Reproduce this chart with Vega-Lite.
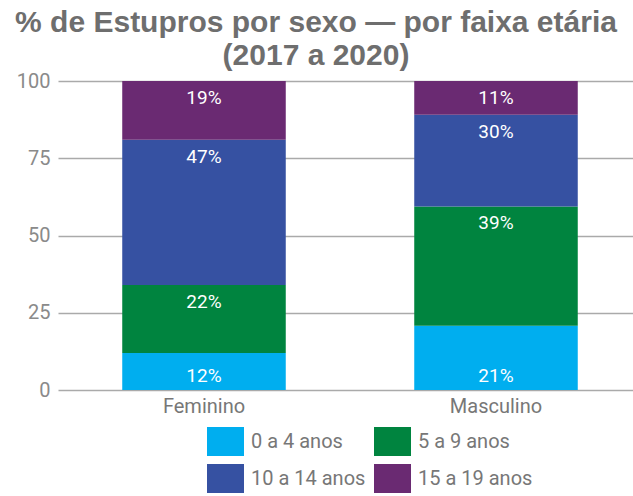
{
  "$schema": "https://vega.github.io/schema/vega-lite/v6.json",
  "autosize": "none",
  "width": 584,
  "height": 309,
  "padding": {"left": 58, "top": 81, "right": 0, "bottom": 106},
  "background": "white",
  "title": {
    "text": ["% de Estupros por sexo — por faixa etária", "(2017 a 2020)"],
    "font": "Liberation Sans",
    "fontWeight": "bold",
    "fontSize": 30,
    "lineHeight": 33,
    "color": "#6e6e6e",
    "anchor": "middle",
    "dx": -34,
    "offset": 0
  },
  "data": {
    "values": [
      {"sexo": "Feminino", "faixa": "0 a 4 anos", "ordem": 1, "valor": 12},
      {"sexo": "Feminino", "faixa": "5 a 9 anos", "ordem": 2, "valor": 22},
      {"sexo": "Feminino", "faixa": "10 a 14 anos", "ordem": 3, "valor": 47},
      {"sexo": "Feminino", "faixa": "15 a 19 anos", "ordem": 4, "valor": 19},
      {"sexo": "Masculino", "faixa": "0 a 4 anos", "ordem": 1, "valor": 21},
      {"sexo": "Masculino", "faixa": "5 a 9 anos", "ordem": 2, "valor": 39},
      {"sexo": "Masculino", "faixa": "10 a 14 anos", "ordem": 3, "valor": 30},
      {"sexo": "Masculino", "faixa": "15 a 19 anos", "ordem": 4, "valor": 11}
    ]
  },
  "transform": [
    {"stack": "valor", "groupby": ["sexo"], "sort": [{"field": "ordem", "order": "ascending"}], "as": ["y0", "y1"], "offset": "normalize"},
    {"calculate": "datum.valor + '%'", "as": "rotulo"}
  ],
  "encoding": {
    "x": {
      "field": "sexo",
      "type": "nominal",
      "scale": {"paddingInner": 0.44, "paddingOuter": 0.22},
      "axis": {
        "title": null,
        "labelAngle": 0,
        "labelFont": "Roboto",
        "labelFontSize": 20,
        "labelColor": "#777777",
        "labelPadding": 6,
        "ticks": false,
        "domain": false
      }
    }
  },
  "layer": [
    {
      "mark": {"type": "bar"},
      "encoding": {
        "y": {
          "field": "y0",
          "type": "quantitative",
          "scale": {"domain": [0, 1], "nice": false},
          "axis": {
            "title": null,
            "values": [0, 0.25, 0.5, 0.75, 1],
            "labelExpr": "format(datum.value * 100, 'd')",
            "labelFont": "Roboto",
            "labelFontSize": 20,
            "labelColor": "#8a8a8a",
            "labelPadding": 8,
            "ticks": false,
            "domain": false,
            "grid": true,
            "gridColor": "#aaaaaa",
            "gridWidth": 1.3
          }
        },
        "y2": {"field": "y1"},
        "color": {
          "field": "faixa",
          "type": "nominal",
          "scale": {
            "domain": ["0 a 4 anos", "5 a 9 anos", "10 a 14 anos", "15 a 19 anos"],
            "range": ["#00aeef", "#00843f", "#3651a2", "#6a2a72"]
          },
          "legend": {
            "title": null,
            "orient": "none",
            "legendX": 149,
            "legendY": 342,
            "direction": "horizontal",
            "columns": 2,
            "columnPadding": 8,
            "rowPadding": 4,
            "padding": 0,
            "symbolType": "M-1,-0.78H1V0.78H-1Z",
            "symbolSize": 1369,
            "symbolStrokeWidth": 0,
            "symbolOpacity": 1,
            "labelFont": "Roboto",
            "labelFontSize": 20,
            "labelColor": "#777777",
            "labelOffset": 7
          }
        }
      }
    },
    {
      "transform": [{"filter": "datum.ordem > 1"}],
      "mark": {"type": "text", "color": "white", "font": "Roboto", "fontSize": 19, "baseline": "middle", "dy": 17},
      "encoding": {
        "y": {"field": "y1", "type": "quantitative"},
        "text": {"field": "rotulo"}
      }
    },
    {
      "transform": [{"filter": "datum.ordem == 1"}],
      "mark": {"type": "text", "color": "white", "font": "Roboto", "fontSize": 19, "baseline": "middle", "dy": -14},
      "encoding": {
        "y": {"field": "y0", "type": "quantitative"},
        "text": {"field": "rotulo"}
      }
    }
  ],
  "config": {"view": {"stroke": null}}
}
